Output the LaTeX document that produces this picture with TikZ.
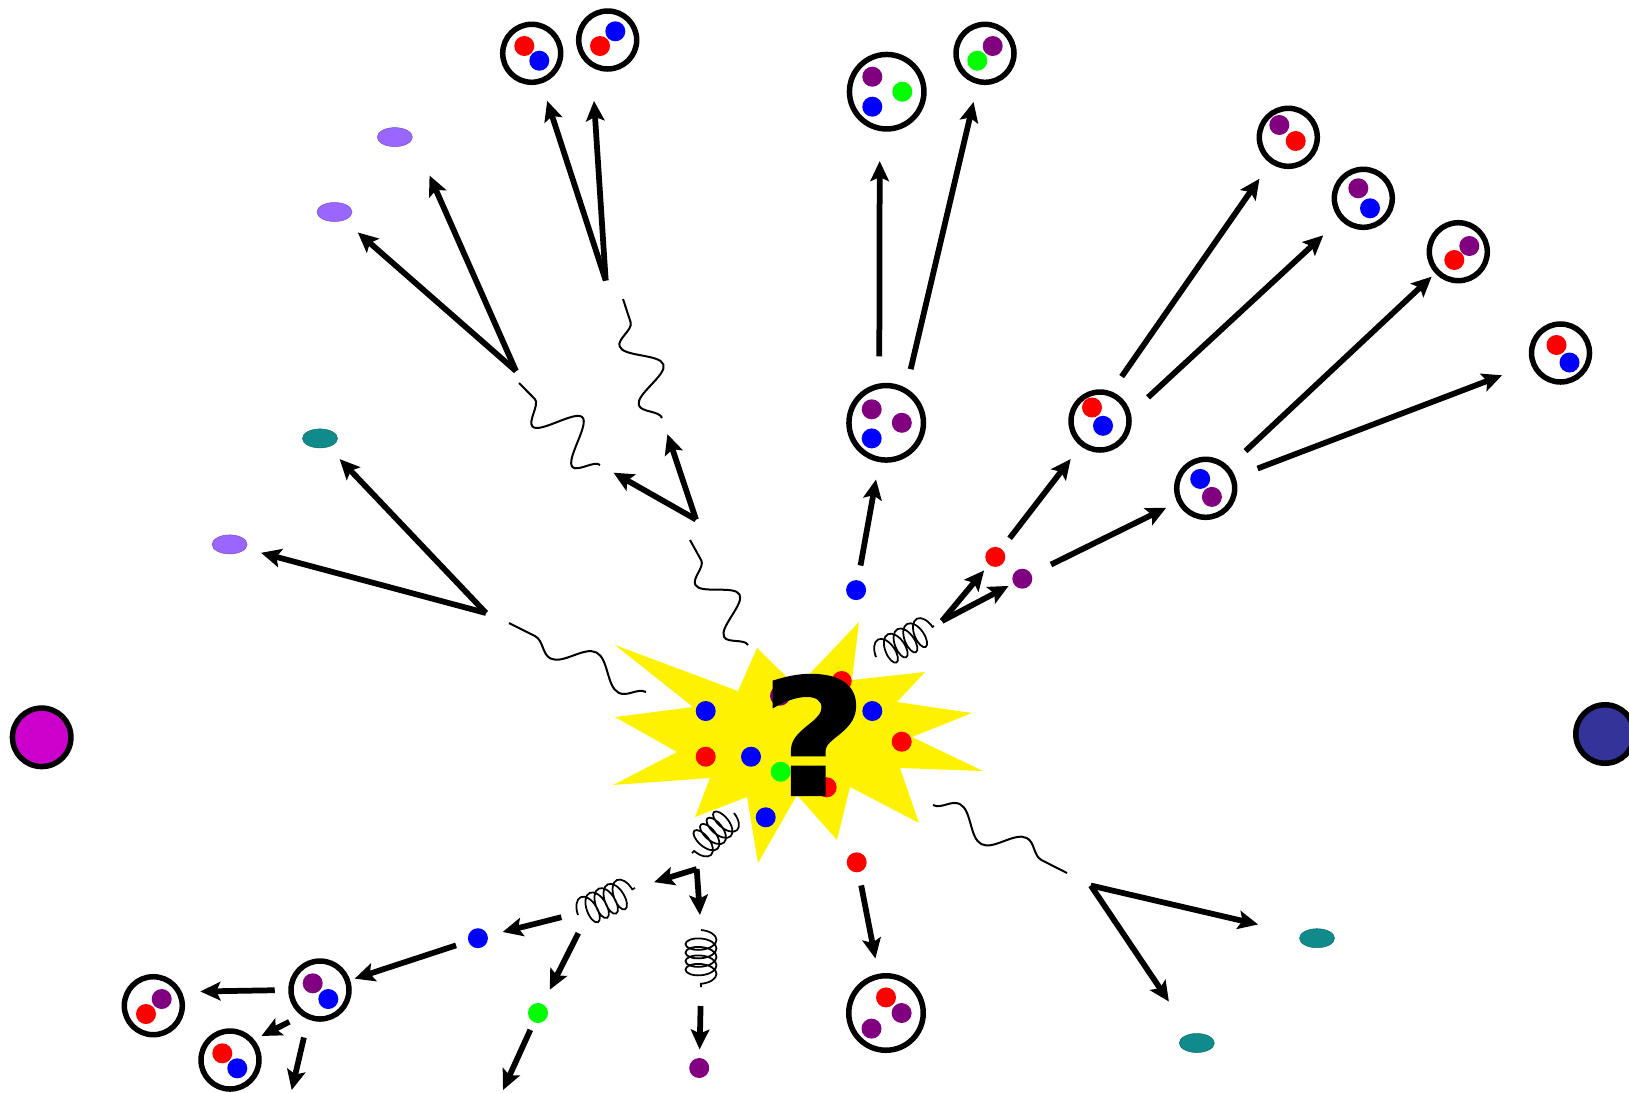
\documentclass[tikz,border=0pt]{standalone}
\usepackage{fontspec}
\usepackage{tikz}
\usetikzlibrary{arrows.meta, positioning, shapes.geometric, decorations.pathmorphing}
\newfontfamily\heavyfont[BoldFeatures={FakeBold=1.5}]{DejaVu Sans}

\definecolor{qred}{HTML}{FF0000}
\definecolor{qblue}{HTML}{0000FF}
\definecolor{qpurple}{HTML}{800080}
\definecolor{qgreen}{HTML}{00FF00}
\definecolor{lilac}{HTML}{9966FF}
\definecolor{tealish}{HTML}{108A8A}
\definecolor{beamleft}{HTML}{CC00CC}
\definecolor{beamright}{HTML}{333399}

\begin{document}
\begin{tikzpicture}[x=0.2mm, y=-0.2mm,
  meson/.style={circle, draw, line width=1.1mm, minimum size=11.6mm, inner sep=0pt},
  baryon/.style={meson, minimum size=14.9mm},
  quark/.style={circle, fill=#1, minimum size=4mm, inner sep=0pt},
  lepton/.style={ellipse, fill=#1, draw=#1!80!black, line width=0.3pt, minimum width=7mm, minimum height=3.8mm, inner sep=0pt},
  beam/.style={circle, draw, line width=1.1mm, fill=#1, minimum size=11.7mm, inner sep=0pt},
  arr/.style={line width=1.15mm, -{Stealth[length=4mm, width=3.7mm, inset=0.8mm]}},
  photon/.style={decorate, line width=0.4mm, decoration={snake, amplitude=#1}},
  gluon/.style={decorate, line width=0.35mm, decoration={coil, aspect=0.5, amplitude=#1}},
]
\useasboundingbox (0,0) rectangle (1629,1092);

% beams
\draw (41.7,737.3) node[beam=beamleft] (ionL) {};
\draw (1605,734) node[beam=beamright] (ionR) {};

% collision
\fill[yellow] (615,645) -- (738,691) -- (757,648) -- (797,687) -- (859,622)
  -- (852,680) -- (925,672) -- (897,702) -- (972,713) -- (912,737) -- (983,771)
  -- (900,768) -- (919,823) -- (850,787) -- (837,840) -- (797,795) -- (758,863)
  -- (747,797) -- (695,817) -- (710,778) -- (613,785) -- (677,752) -- (615,717)
  -- (693,707) -- cycle;
\node[quark=qblue]   (c1)  at (705.7,711) {};
\node[quark=qpurple] (c2)  at (780,695.7) {};
\node[quark=qred]    (c3)  at (841.7,681) {};
\node[quark=qblue]   (c4)  at (872.3,711) {};
\node[quark=qred]    (c5)  at (901.7,741.7) {};
\node[quark=qred]    (c6)  at (705.7,756.7) {};
\node[quark=qblue]   (c7)  at (751,756.7) {};
\node[quark=qgreen]  (c8)  at (780.7,771.7) {};
\node[quark=qred]    (c9)  at (826.7,787.3) {};
\node[quark=qblue]   (c10) at (765.7,817.3) {};
\node[inner sep=0pt, xscale=1.12, transform shape, font=\heavyfont\bfseries\fontsize{92}{92}\selectfont] (what) at (814,735) {?};

% photons
\coordinate (phA1) at (509,623);  \coordinate (phA2) at (646,692);
\coordinate (phB1) at (519,383);  \coordinate (phB2) at (600,465);
\coordinate (phC1) at (623,299);  \coordinate (phC2) at (662,418);
\coordinate (phD1) at (690,540);  \coordinate (phD2) at (748,645);
\coordinate (phE1) at (933,805);  \coordinate (phE2) at (1067,873);
\draw[photon=2.6mm, decoration={segment length=15.3mm}] (phA2) -- (phA1);
\draw[photon=4.2mm, decoration={segment length=11.4mm}] (phB2) -- (phB1);
\draw[photon=3.6mm, decoration={segment length=12.4mm}] (phC2) -- (phC1);
\draw[photon=3.4mm, decoration={segment length=11.9mm}] (phD2) -- (phD1);
\draw[photon=2.6mm, decoration={segment length=15mm}] (phE1) -- (phE2);

% gluons
\coordinate (gA1) at (876,657);  \coordinate (gA2) at (934,626);
\coordinate (gB1) at (734,813);  \coordinate (gB2) at (692,853);
\coordinate (gC1) at (578,915);  \coordinate (gC2) at (635,888);
\coordinate (gD1) at (701,930);  \coordinate (gD2) at (701,987);
\draw[gluon=2.9mm, decoration={segment length=2.2mm}] (gA1) -- (gA2);
\draw[gluon=2.9mm, decoration={segment length=1.8mm}] (gB1) -- (gB2);
\draw[gluon=3mm, decoration={segment length=2mm}] (gC1) -- (gC2);
\draw[gluon=3.1mm, decoration={segment length=1.7mm}] (gD1) -- (gD2);

% vertices
\coordinate (v1) at (516,371);
\coordinate (v2) at (605.7,280.5);
\coordinate (v3) at (696,519.5);
\coordinate (v4) at (486,613);
\coordinate (v5) at (942,621);
\coordinate (v6) at (1090.8,885.5);
\coordinate (v7) at (696.7,869);
\coordinate (v8) at (590,910);
\coordinate (out1) at (503,1090);
\coordinate (out2) at (291.7,1090);

% free quarks
\node[quark=qblue]   (qb1) at (856.1,590.1) {};
\node[quark=qred]    (qr1) at (995.3,556.9) {};
\node[quark=qpurple] (qp1) at (1022.3,578.7) {};
\node[quark=qblue]   (qb2) at (477.9,938.2) {};
\node[quark=qgreen]  (qg1) at (538,1013) {};
\node[quark=qpurple] (qp2) at (699.2,1068) {};
\node[quark=qred]    (qr2) at (856.7,862.3) {};

% leptons
\node[lepton=lilac]   (lA) at (394.8,137.1) {};
\node[lepton=lilac]   (lB) at (334.5,212) {};
\node[lepton=tealish] (lC) at (320,438.4) {};
\node[lepton=lilac]   (lD) at (229.6,544.4) {};
\node[lepton=tealish] (lE) at (1317,938.2) {};
\node[lepton=tealish] (lF) at (1196.8,1043) {};

% top left mesons
\draw (531.7,53.3) node[meson] (mA) {};
\node[quark=qred]  at ([shift={(-7.4,-7.3)}]mA) (mA1) {};
\node[quark=qblue] at ([shift={(7.6,7.4)}]mA) (mA2) {};
\draw (607.7,40) node[meson] (mB) {};
\node[quark=qblue] at ([shift={(7.6,-8.7)}]mB) (mB1) {};
\node[quark=qred]  at ([shift={(-7.7,6)}]mB) (mB2) {};

% top baryons
\draw (886.7,91.7) node[baryon] (bA) {};
\node[quark=qpurple] at ([shift={(-14.4,-15)}]bA) (bA1) {};
\node[quark=qgreen]  at ([shift={(15.6,0)}]bA) (bA2) {};
\node[quark=qblue]   at ([shift={(-14.4,15)}]bA) (bA3) {};
\draw (985,53.3) node[meson] (mC) {};
\node[quark=qpurple] at ([shift={(7.7,-7.3)}]mC) (mC1) {};
\node[quark=qgreen]  at ([shift={(-7.7,7.4)}]mC) (mC2) {};
\draw (886.2,422.8) node[baryon] (bB) {};
\node[quark=qpurple] at ([shift={(-14.5,-13.5)}]bB) (bB1) {};
\node[quark=qpurple] at ([shift={(15.6,0)}]bB) (bB2) {};
\node[quark=qblue]   at ([shift={(-14.5,15.6)}]bB) (bB3) {};

% right mesons
\draw (1288.3,137.3) node[meson] (mD) {};
\node[quark=qpurple] at ([shift={(-9,-12.3)}]mD) (mD1) {};
\node[quark=qred]    at ([shift={(7.4,3.7)}]mD) (mD2) {};
\draw (1363.3,198.3) node[meson] (mE) {};
\node[quark=qpurple] at ([shift={(-5,-10)}]mE) (mE1) {};
\node[quark=qblue]   at ([shift={(6.7,10)}]mE) (mE2) {};
\draw (1458.3,251.7) node[meson] (mF) {};
\node[quark=qpurple] at ([shift={(11,-5.7)}]mF) (mF1) {};
\node[quark=qred]    at ([shift={(-4,8.3)}]mF) (mF2) {};
\draw (1560.5,353) node[meson] (mG) {};
\node[quark=qred]  at ([shift={(-4,-8)}]mG) (mG1) {};
\node[quark=qblue] at ([shift={(9,9.5)}]mG) (mG2) {};
\draw (1100,421) node[meson] (mH) {};
\node[quark=qred]  at ([shift={(-8,-13.5)}]mH) (mH1) {};
\node[quark=qblue] at ([shift={(3,4.8)}]mH) (mH2) {};
\draw (1205.7,488.3) node[meson] (mI) {};
\node[quark=qblue]   at ([shift={(-5.5,-9.4)}]mI) (mI1) {};
\node[quark=qpurple] at ([shift={(6.2,8.6)}]mI) (mI2) {};

% bottom hadrons
\draw (886,1013) node[baryon] (bC) {};
\node[quark=qred]    at ([shift={(0,-15.6)}]bC) (bC1) {};
\node[quark=qpurple] at ([shift={(15.6,0)}]bC) (bC2) {};
\node[quark=qpurple] at ([shift={(-14.5,15.6)}]bC) (bC3) {};
\draw (320,990) node[meson] (mJ) {};
\node[quark=qpurple] at ([shift={(-7.3,-6.7)}]mJ) (mJ1) {};
\node[quark=qblue]   at ([shift={(8.3,9)}]mJ) (mJ2) {};
\draw (153.3,1005.7) node[meson] (mK) {};
\node[quark=qpurple] at ([shift={(8.4,-6.7)}]mK) (mK1) {};
\node[quark=qred]    at ([shift={(-7.3,8.3)}]mK) (mK2) {};
\draw (230,1060) node[meson] (mL) {};
\node[quark=qred]  at ([shift={(-7.7,-6.7)}]mL) (mL1) {};
\node[quark=qblue] at ([shift={(7.3,8.3)}]mL) (mL2) {};

% upper left decays
\draw[arr, shorten >=6.2mm] (v1) -- (lB.center);
\draw[arr, shorten >=8.4mm] (v1) -- (lA.east);
\draw[arr, shorten >=10mm] (v2) -- (mA.center);
\draw[arr, shorten >=6.7mm] (v2) -- (mB.240);
\draw[arr, shorten >=3.1mm] (v3) -- (phB2);
\draw[arr, shorten >=3.4mm] (v3) -- (phC2);
\draw[arr, shorten >=6.5mm] (v4) -- (lD.center);
\draw[arr, shorten >=5.7mm] (v4) -- (lC.center);

% upper jet
\draw[arr, shorten <=5mm, shorten >=11.5mm] (qb1.center) -- (bB.center);
\draw[arr, shorten <=5.4mm, shorten >=6mm] (bB.100) -- (bA.260);
\draw[arr, shorten <=3.9mm, shorten >=10mm] (bB.60) -- (mC.center);

% right jet
\draw[arr, shorten >=3.5mm] (v5) -- (qr1.center);
\draw[arr, shorten >=3.1mm] (v5) -- (qp1.center);
\draw[arr, shorten <=4.7mm, shorten >=9.6mm] (qr1.center) -- (mH.center);
\draw[arr, shorten <=6.4mm, shorten >=8.8mm] (qp1.center) -- (mI.center);
\draw[arr, shorten <=3.6mm, shorten >=10.1mm] (mH.69) -- (mD.center);
\draw[arr, shorten <=4.7mm, shorten >=10.9mm] (mH.14) -- (mE.center);
\draw[arr, shorten <=10.9mm, shorten >=7.3mm] (mI.center) -- (mF.center);
\draw[arr, shorten <=11.1mm, shorten >=12.5mm] (mI.center) -- (mG.center);

% lower right
\draw[arr, shorten >=12.1mm] (v6) -- (lE.center);
\draw[arr, shorten >=10mm] (v6) -- (lF.center);
\draw[arr, shorten <=4.7mm, shorten >=11.1mm] (qr2.center) -- (bC.center);

% lower left jet
\draw[arr, shorten >=4mm] (v7) -- (gC2);
\draw[arr, shorten >=3mm] (v7) -- (gD1);
\draw[arr, shorten <=5.9mm, shorten >=5.1mm] (v8) -- (qb2.center);
\draw[arr, shorten <=5.2mm, shorten >=5.2mm] (v8) -- (qg1.center);
\draw[arr, shorten <=4.6mm, shorten >=7.3mm] (qb2.center) -- (mJ.center);
\draw[arr, shorten <=3.8mm, shorten >=3.7mm] (gD2) -- (qp2.center);
\draw[arr, shorten <=3.7mm] (qg1.center) -- (out1);
\draw[arr, shorten <=2.7mm, shorten >=3.7mm] (mJ.west) -- (mK.26);
\draw[arr, shorten <=2.7mm, shorten >=1.6mm] (mJ.234) -- (mL.40);
\draw[arr, shorten <=3.7mm] (mJ.248) -- (out2);
\end{tikzpicture}
\end{document}
